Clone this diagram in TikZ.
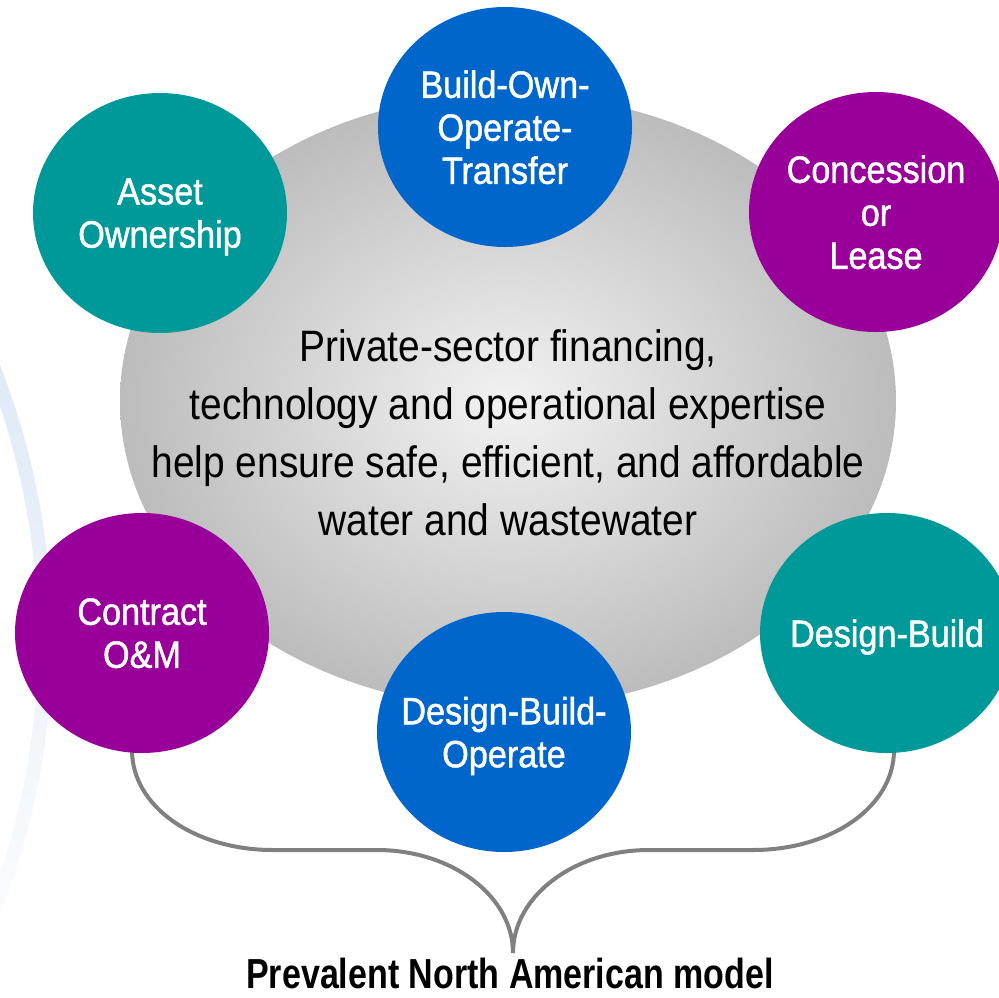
\documentclass[tikz,border=0pt]{standalone}
\usepackage{fontspec}
\setmainfont{Liberation Sans}
\newfontfamily\labelfont{Liberation Sans}[FakeStretch=0.9, FakeBold=1.2]
\newfontfamily\bodyfont{Liberation Sans}[FakeStretch=0.885]
\newfontfamily\notefont{Liberation Sans}[FakeStretch=0.81]
\usetikzlibrary{shapes.geometric}

\definecolor{ppteal}{HTML}{009999}
\definecolor{ppblue}{HTML}{0066CC}
\definecolor{pppurple}{HTML}{990099}
\definecolor{bracegray}{HTML}{808080}
\definecolor{hubinner}{HTML}{F2F2F2}
\definecolor{hubouter}{HTML}{BCBCBC}
\definecolor{arcblue}{HTML}{E0E9F6}

\tikzset{
  bubble/.style={ellipse, minimum width=254pt, minimum height=240pt,
    inner sep=-14pt, text=white, align=center, text depth=0pt,
    font=\labelfont\fontsize{38}{43}\selectfont},
  hubtext/.style={align=center, text=black, text depth=0pt,
    font=\bodyfont\fontsize{44}{58}\selectfont},
  brace/.style={draw=bracegray, line width=4pt, line cap=butt},
  caption/.style={anchor=base, text=black, inner sep=0pt,
    font=\notefont\bfseries\fontsize{42}{46}\selectfont}
}

\begin{document}
\begin{tikzpicture}[x=1pt, y=-1pt]
  \useasboundingbox (0,0) rectangle (999,997);

  % faint decorative arc on the left, fading towards its lower end
  \shade[top color=arcblue, middle color=arcblue, bottom color=arcblue!15!white]
    ([shift={(-700,640)}]-22:752) arc[start angle=-22, end angle=22, radius=752]
    -- ([shift={(-700,640)}]22:738) arc[start angle=22, end angle=-22, radius=738]
    -- cycle;

  % central hub
  \shade[inner color=hubinner, outer color=hubouter]
    (508,401) ellipse[x radius=388, y radius=307];
  \node[hubtext] (hub) at (508,433)
    {Private-sector financing,\\technology and operational expertise\\help ensure safe, efficient, and affordable\\water and wastewater};

  % brace grouping the prevalent models
  \coordinate (braceL) at (132,750);
  \coordinate (braceR) at (894,750);
  \coordinate (tip) at (513,953);
  \draw[brace] (braceL) .. controls +(0,57) and +(-78,0) .. (273,850)
    -- (377,850) .. controls +(75,0) and +(0,-57) .. (tip);
  \draw[brace] (braceR) .. controls +(0,57) and +(78,0) .. (753,850)
    -- (649,850) .. controls +(-75,0) and +(0,-57) .. (tip);

  % delivery models
  \node[bubble, fill=ppteal]   (asset)   at (160,213) {Asset\\Ownership};
  \node[bubble, fill=ppblue]   (boot)    at (505,127) {Build-Own-\\Operate-\\Transfer};
  \node[bubble, fill=pppurple] (lease)   at (876,212) {Concession\\or\\Lease};
  \node[bubble, fill=pppurple] (om)      at (142,633) {Contract\\O\&M};
  \node[bubble, fill=ppteal]   (db)      at (887,633) {Design-Build};
  \node[bubble, fill=ppblue]   (dbo)     at (504,732) {Design-Build-\\Operate};

  \node[caption] (model) at (510,988) {Prevalent North American model};
\end{tikzpicture}
\end{document}
